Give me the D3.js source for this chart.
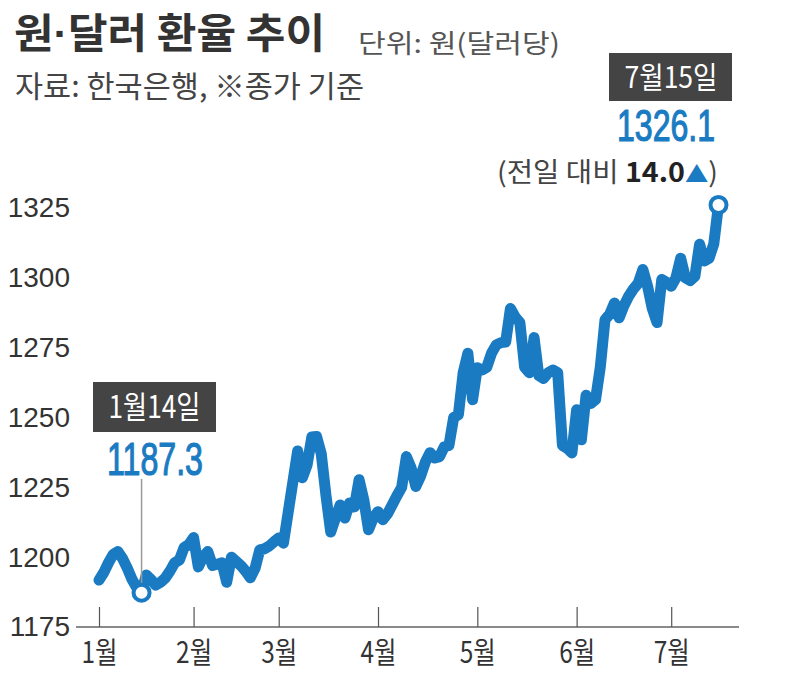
<!DOCTYPE html>
<html>
<head>
<meta charset="utf-8">
<script src="https://cdn.jsdelivr.net/npm/d3@7"></script>
<style>
  body { margin: 0; background: #fff; }
  text { font-family: "Liberation Sans Narrow", "Noto Sans CJK KR", sans-serif; }
</style>
</head>
<body>
<div id="chart"></div>
<script>
// trading days, Jan 3 ~ Jul 15
const dates = [
  "01-03","01-04","01-05","01-06","01-07","01-10","01-11","01-12","01-13","01-14",
  "01-17","01-18","01-19","01-20","01-21","01-24","01-25","01-26","01-27","01-28",
  "02-03","02-04","02-07","02-08","02-09","02-10","02-11","02-14","02-15","02-16",
  "02-17","02-18","02-21","02-22","02-23","02-24","02-25","02-28",
  "03-02","03-03","03-04","03-07","03-08","03-10","03-11","03-14","03-15","03-16",
  "03-17","03-18","03-21","03-22","03-23","03-24","03-25","03-28","03-29","03-30","03-31",
  "04-01","04-04","04-05","04-06","04-07","04-08","04-11","04-12","04-13","04-14",
  "04-15","04-18","04-19","04-20","04-21","04-22","04-25","04-26","04-27","04-28","04-29",
  "05-02","05-03","05-04","05-06","05-09","05-10","05-11","05-12","05-13","05-16",
  "05-17","05-18","05-19","05-20","05-23","05-24","05-25","05-26","05-27","05-30","05-31",
  "06-02","06-03","06-07","06-08","06-09","06-10","06-13","06-14","06-15","06-16",
  "06-17","06-20","06-21","06-22","06-23","06-24","06-27","06-28","06-29","06-30",
  "07-01","07-04","07-05","07-06","07-07","07-08","07-11","07-12","07-13","07-14","07-15"
];

// closing rate, won per dollar
const rates = [
  // Jan
  1191.8, 1194.5, 1198.0, 1201.0, 1202.0, 1199.5, 1196.0, 1192.0, 1189.0, 1187.3,
  1193.6, 1192.0, 1190.0, 1191.0, 1192.5, 1195.0, 1198.0, 1199.0, 1203.5, 1204.5,
  // Feb
  1207.0, 1196.5, 1200.0, 1202.0, 1197.0, 1197.5, 1198.0, 1191.0, 1200.0, 1198.5,
  1197.0, 1195.0, 1192.6, 1196.0, 1202.6, 1203.0, 1204.0, 1205.5,
  // Mar
  1206.9, 1205.0, 1216.0, 1227.0, 1238.0, 1228.4, 1233.0, 1243.0, 1243.2, 1237.0,
  1222.0, 1209.0, 1214.0, 1218.7, 1214.0, 1219.4, 1218.0, 1227.7, 1220.5, 1209.8, 1214.0,
  // Apr
  1216.3, 1213.4, 1215.5, 1218.7, 1222.0, 1225.0, 1236.0, 1232.0, 1225.3, 1229.0,
  1234.0, 1237.4, 1235.5, 1236.0, 1239.5, 1240.0, 1250.0, 1251.0, 1266.0, 1273.0, 1256.4,
  // May
  1267.8, 1267.0, 1268.0, 1273.0, 1276.0, 1276.8, 1277.0, 1289.0, 1286.0, 1284.0,
  1268.0, 1266.0, 1278.6, 1265.0, 1264.0, 1266.0, 1267.0, 1266.0, 1240.0, 1239.0, 1237.3,
  // Jun
  1252.8, 1242.0, 1258.0, 1255.0, 1256.4, 1268.0, 1285.0, 1287.0, 1291.0, 1285.7,
  1290.0, 1293.4, 1296.0, 1298.0, 1303.0, 1297.0, 1289.0, 1284.0, 1299.4, 1298.4,
  // Jul
  1297.0, 1300.0, 1307.0, 1300.0, 1299.0, 1300.5, 1312.0, 1306.0, 1307.0, 1312.1, 1326.1
];

const yTicks = [1175, 1200, 1225, 1250, 1275, 1300, 1325];
const monthLabels = ["1월", "2월", "3월", "4월", "5월", "6월", "7월"];

const unitText = "단위: 원(달러당)";
const sourceText = "자료: 한국은행, ※종가 기준";

const lowIdx = 9;                       // 1월14일
const lastIdx = rates.length - 1;       // 7월15일
const change = +(rates[lastIdx] - rates[lastIdx - 1]).toFixed(1);

const blue = "#1a7bc2";
const narrow = "'Liberation Sans Narrow', sans-serif";

const width = 790, height = 687;

const svg = d3.select("#chart")
  .append("svg")
  .attr("width", width)
  .attr("height", height);

// scales: x by trading-day index
const x = d3.scaleLinear()
  .domain([0, lastIdx])
  .range([99, 718.5]);

const y = d3.scaleLinear()
  .domain([1175, 1325])
  .range([627, 208]);

// first trading day of each month
const monthStarts = [];
dates.forEach((d, i) => {
  if (i === 0 || d.slice(0, 2) !== dates[i - 1].slice(0, 2)) monthStarts.push(i);
});

// titles
const ttl = svg.append("text")
  .attr("x", 14).attr("y", 48)
  .attr("font-size", 41).attr("font-weight", 700)
  .attr("fill", "#333")
  .style("font-family", "'Noto Sans CJK KR', sans-serif")
  .attr("textLength", 311).attr("lengthAdjust", "spacingAndGlyphs");
ttl.append("tspan").text("원");
ttl.append("tspan").style("font-family", "'Liberation Sans', sans-serif").text("·");
ttl.append("tspan").text("달러 환율 추이");

svg.append("text")
  .attr("x", 358).attr("y", 53)
  .attr("font-size", 26)
  .attr("fill", "#555")
  .style("font-family", "'Noto Sans CJK KR', sans-serif")
  .attr("textLength", 202).attr("lengthAdjust", "spacingAndGlyphs")
  .text(unitText);

svg.append("text")
  .attr("x", 15).attr("y", 97)
  .attr("font-size", 30)
  .attr("fill", "#444")
  .style("font-family", "'Noto Sans CJK KR', sans-serif")
  .attr("textLength", 349).attr("lengthAdjust", "spacingAndGlyphs")
  .text(sourceText);

// y axis labels
const yAxis = svg.append("g")
  .attr("transform", "translate(70,0)")
  .call(d3.axisLeft(y).tickValues(yTicks).tickSize(0).tickPadding(0)
    .tickFormat(d3.format("d")));
yAxis.select(".domain").remove();
yAxis.selectAll("text")
  .attr("font-size", 28)
  .attr("fill", "#333")
  .style("font-family", narrow);

// x axis
svg.append("line")
  .attr("x1", 76).attr("x2", 739)
  .attr("y1", y(1175)).attr("y2", y(1175))
  .attr("stroke", "#8a8a8a").attr("stroke-width", 2);

const xAxis = svg.append("g")
  .attr("transform", `translate(0, ${y(1175)})`)
  .call(d3.axisBottom(x)
    .tickValues(monthStarts)
    .tickSize(-20)
    .tickPadding(15)
    .tickFormat((d, i) => monthLabels[i]));
xAxis.select(".domain").remove();
xAxis.selectAll(".tick line").attr("stroke", "#555").attr("stroke-width", 1.2);
xAxis.selectAll("text")
  .attr("font-size", 30)
  .attr("fill", "#333")
  .attr("textLength", 36).attr("lengthAdjust", "spacingAndGlyphs");

// line
const line = d3.line()
  .x((d, i) => x(i))
  .y(d => y(d));

svg.append("path")
  .datum(rates)
  .attr("fill", "none")
  .attr("stroke", blue)
  .attr("stroke-width", 11)
  .attr("stroke-linejoin", "round")
  .attr("stroke-linecap", "round")
  .attr("d", line);

// low annotation
svg.append("line")
  .attr("x1", x(lowIdx)).attr("x2", x(lowIdx))
  .attr("y1", 479).attr("y2", y(rates[lowIdx]) - 8)
  .attr("stroke", "#999").attr("stroke-width", 1.5);

svg.append("rect")
  .attr("x", 93).attr("y", 382).attr("width", 123).attr("height", 50)
  .attr("fill", "#444");
svg.append("text")
  .attr("x", 154.5).attr("y", 418)
  .attr("text-anchor", "middle")
  .attr("font-size", 31).attr("fill", "#fff")
  .attr("textLength", 92).attr("lengthAdjust", "spacingAndGlyphs")
  .text("1월14일");
svg.append("text")
  .attr("x", 155).attr("y", 475)
  .attr("text-anchor", "middle")
  .attr("font-size", 46).attr("fill", blue)
  .style("font-family", narrow)
  .attr("stroke", blue).attr("stroke-width", 1.2)
  .attr("textLength", 96).attr("lengthAdjust", "spacingAndGlyphs")
  .text(rates[lowIdx].toFixed(1));

// last annotation
svg.append("rect")
  .attr("x", 609).attr("y", 53).attr("width", 123).attr("height", 48)
  .attr("fill", "#444");
svg.append("text")
  .attr("x", 671).attr("y", 88)
  .attr("text-anchor", "middle")
  .attr("font-size", 30).attr("fill", "#fff")
  .attr("textLength", 93).attr("lengthAdjust", "spacingAndGlyphs")
  .text("7월15일");
svg.append("text")
  .attr("x", 666).attr("y", 141)
  .attr("text-anchor", "middle")
  .attr("font-size", 44).attr("fill", blue)
  .style("font-family", narrow)
  .attr("stroke", blue).attr("stroke-width", 1.2)
  .attr("textLength", 98).attr("lengthAdjust", "spacingAndGlyphs")
  .text(rates[lastIdx].toFixed(1));

const chg = svg.append("text")
  .attr("x", 497).attr("y", 182)
  .attr("font-size", 27).attr("fill", "#444")
  .attr("textLength", 221).attr("lengthAdjust", "spacingAndGlyphs");
chg.append("tspan").text("(전일 대비 ");
chg.append("tspan").attr("font-weight", 700).attr("fill", "#222").text(change.toFixed(1));
chg.append("tspan").attr("fill", blue).attr("font-size", 22).text("▲");
chg.append("tspan").text(")");

// marker circles
svg.selectAll(".marker")
  .data([lowIdx, lastIdx])
  .join("circle")
  .attr("class", "marker")
  .attr("cx", d => x(d))
  .attr("cy", d => y(rates[d]))
  .attr("r", 8)
  .attr("fill", "#fff")
  .attr("stroke", blue)
  .attr("stroke-width", 4);
</script>
</body>
</html>
